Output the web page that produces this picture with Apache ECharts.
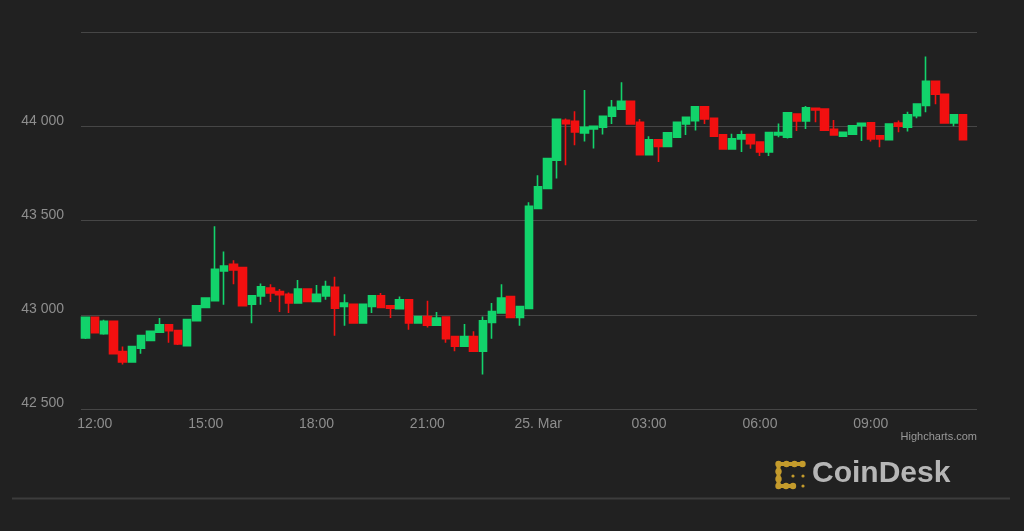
<!DOCTYPE html>
<html>
<head>
<meta charset="utf-8">
<script src="https://cdn.jsdelivr.net/npm/echarts@6/dist/echarts.min.js"></script>
<style>
html,body{margin:0;padding:0;background:#212121;}
#chart{width:1024px;height:531px;}
</style>
</head>
<body>
<div id="chart"></div>
<script>
// 15-minute candles, 24 Mar 11:45 -> 25 Mar 11:30 (last entry is an empty pad slot)
const categories = [
'11:45','12:00','12:15','12:30','12:45','13:00','13:15','13:30','13:45','14:00','14:15','14:30','14:45',
'15:00','15:15','15:30','15:45','16:00','16:15','16:30','16:45','17:00','17:15','17:30','17:45',
'18:00','18:15','18:30','18:45','19:00','19:15','19:30','19:45','20:00','20:15','20:30','20:45',
'21:00','21:15','21:30','21:45','22:00','22:15','22:30','22:45','23:00','23:15','23:30','23:45',
'00:00','00:15','00:30','00:45','01:00','01:15','01:30','01:45','02:00','02:15','02:30','02:45',
'03:00','03:15','03:30','03:45','04:00','04:15','04:30','04:45','05:00','05:15','05:30','05:45',
'06:00','06:15','06:30','06:45','07:00','07:15','07:30','07:45','08:00','08:15','08:30','08:45',
'09:00','09:15','09:30','09:45','10:00','10:15','10:30','10:45','11:00','11:15','11:30',''
];
const opens = [
42877,42986,42899,42965,42805,42749,42823,42863,42907,42947,42916,42836,42968,43039,43074,43232,
43268,43250,43056,43100,43141,43123,43109,43062,43136,43070,43100,43146,43044,43056,42956,43044,
43100,43048,43032,43079,42956,42991,42944,42988,42885,42833,42885,42806,42959,43009,43096,42986,
43034,43564,43670,43820,44032,44026,43965,43986,43995,44053,44091,44132,44021,43849,43928,43893,
43942,44012,44030,44103,44042,43954,43879,43933,43956,43916,43863,43954,43942,44065,44028,44095,
44091,43984,43947,43958,44003,44018,43950,43929,44017,43995,44056,44111,44238,44170,44018,44061
];
const closes = [
42986,42905,42965,42793,42749,42831,42889,42912,42947,42916,42845,42974,43048,43088,43241,43259,
43238,43048,43100,43148,43115,43106,43062,43136,43070,43109,43149,43035,43062,42956,43056,43100,
43039,43035,43079,42956,42991,42944,42983,42873,42833,42885,42806,42968,43017,43088,42986,43044,
43575,43679,43829,44037,44014,43970,43995,44000,44053,44100,44132,44012,43849,43928,43893,43965,
44021,44048,44103,44039,43947,43879,43933,43954,43907,43863,43966,43966,44072,44028,44098,44086,
43979,43954,43968,44003,44016,43933,43933,44012,44000,44061,44118,44238,44170,44018,44061,43928
];
const lows = [
42872,42900,42894,42790,42736,42745,42793,42860,42904,42851,42840,42833,42965,43036,43070,43053,
43162,43045,42955,43053,43067,43014,43009,43059,43067,43067,43079,42889,42942,42953,42953,43009,
43036,42983,43029,42921,42953,42933,42941,42851,42806,42830,42803,42683,42873,43006,42983,42942,
43031,43560,43667,43723,43793,43899,43919,43882,43956,44012,44088,44009,43846,43846,43810,43890,
43939,43954,43977,44012,43944,43876,43876,43863,43880,43842,43842,43942,43935,43975,43986,44021,
43976,43951,43944,43955,43922,43919,43889,43926,43968,43972,44042,44074,44117,44015,44000,43925
];
const highs = [
42990,42990,42974,42968,42831,42834,42892,42915,42983,42950,42919,42977,43051,43092,43470,43335,
43289,43253,43103,43166,43162,43136,43118,43185,43139,43158,43180,43202,43109,43059,43059,43103,
43115,43051,43097,43082,42994,43074,43014,42991,42888,42951,42912,42991,43062,43162,43099,43047,
43597,43740,43832,44040,44041,44079,44192,44003,44056,44139,44234,44135,44039,43947,43931,43968,
44024,44051,44106,44106,44045,43957,43960,43977,43959,43919,43969,44014,44075,44068,44107,44098,
44094,44033,43971,44006,44019,44021,43953,44015,44030,44077,44121,44370,44241,44173,44064,44064
];
const xTickValues = ['12:00','15:00','18:00','21:00','00:00','03:00','06:00','09:00'];
const xTickLabels = ['12:00','15:00','18:00','21:00','25. Mar','03:00','06:00','09:00'];
const yMin = 42500, yMax = 44500, yStep = 500;

const candleData = opens.map((o, i) => [o, closes[i], lows[i], highs[i]]);
const UP = '#12d36b', DOWN = '#f21010', GOLD = '#c49b2c';
const FONT = 'Liberation Sans, Arial, sans-serif';

// logo bead positions (decorative icon)
const beads = [[778.5,464],[786.5,464],[794.5,464],[802.5,464],[778.5,471.5],[778.5,479],[778.5,486],[786,486],[793,486]];
const logoGraphics = beads.map(p => ({type: 'circle', shape: {cx: p[0], cy: p[1], r: 3.2}, style: {fill: GOLD}}));

const chart = echarts.init(document.getElementById('chart'), null, {renderer: 'canvas'});
chart.setOption({
  backgroundColor: '#212121',
  animation: false,
  grid: {left: 81, right: 47, top: 32, bottom: 122, containLabel: false},
  xAxis: {
    type: 'category',
    data: categories,
    boundaryGap: true,
    axisLine: {show: false},
    axisTick: {show: false},
    splitLine: {show: false},
    axisLabel: {
      interval: (idx, val) => xTickValues.indexOf(val) >= 0,
      formatter: (val) => { const k = xTickValues.indexOf(val); return k >= 0 ? xTickLabels[k] : ''; },
      color: '#8e8e8e',
      fontSize: 14,
      fontFamily: FONT,
      margin: 8
    }
  },
  yAxis: {
    type: 'value',
    min: yMin, max: yMax, interval: yStep,
    axisLine: {show: false},
    axisTick: {show: false},
    splitLine: {lineStyle: {color: '#464646', width: 1}},
    axisLabel: {
      showMaxLabel: false,
      color: '#8e8e8e',
      fontSize: 14,
      fontFamily: FONT,
      margin: 17,
      verticalAlign: 'bottom',
      lineHeight: 11,
      formatter: (v) => String(v).replace(/\B(?=(\d{3})+(?!\d))/g, ' ')
    }
  },
  series: [{
    type: 'candlestick',
    data: candleData,
    barWidth: '86%',
    itemStyle: {
      color: UP, color0: DOWN,
      borderColor: UP, borderColor0: DOWN,
      borderWidth: 1.6
    }
  }],
  graphic: [
    {type: 'text', right: 47, top: 431,
     style: {text: 'Highcharts.com', fill: '#9a9a9a', fontSize: 11, fontFamily: FONT}},
    {type: 'line', shape: {x1: 12, y1: 498.5, x2: 1010, y2: 498.5},
     style: {stroke: '#3c3c3c', lineWidth: 2}},
    {type: 'polyline', shape: {points: [[802.5, 464], [778.5, 464], [778.5, 486], [793, 486]]},
     style: {stroke: GOLD, lineWidth: 4, fill: null, lineCap: 'round', lineJoin: 'round'}}
  ].concat(logoGraphics).concat([
    {type: 'circle', shape: {cx: 793, cy: 476, r: 1.6}, style: {fill: GOLD}},
    {type: 'circle', shape: {cx: 803, cy: 476, r: 1.6}, style: {fill: GOLD}},
    {type: 'circle', shape: {cx: 803, cy: 486, r: 1.6}, style: {fill: GOLD}},
    {type: 'text', left: 812, top: 459,
     style: {text: 'CoinDesk', fill: '#b6b6b6', fontSize: 30, fontWeight: 'bold', fontFamily: FONT}}
  ])
});
</script>
</body>
</html>
